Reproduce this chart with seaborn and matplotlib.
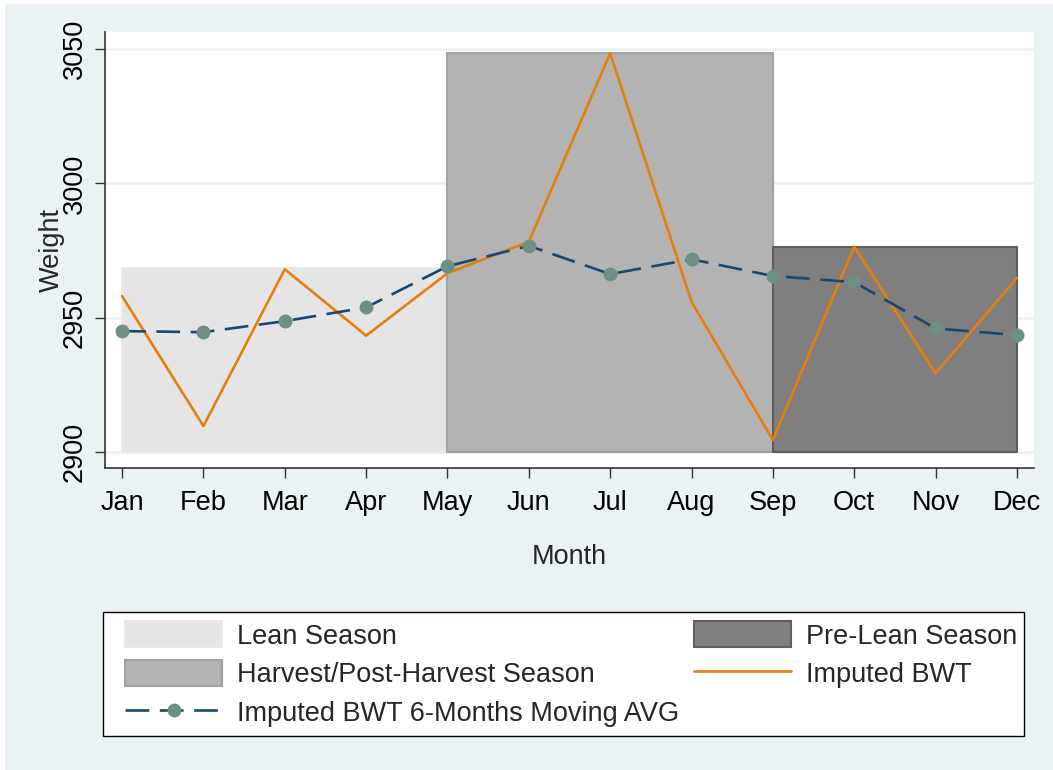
import matplotlib
matplotlib.use("Agg")
import matplotlib.pyplot as plt
from matplotlib.patches import Patch, Rectangle
from matplotlib.lines import Line2D
import seaborn as sns
import pandas as pd

# data
months = ["Jan", "Feb", "Mar", "Apr", "May", "Jun",
          "Jul", "Aug", "Sep", "Oct", "Nov", "Dec"]
month_num = list(range(1, 13))
imputed_bwt = [2958.1, 2909.8, 2968.1, 2943.4, 2966.6, 2978.3,
               3048.4, 2956.0, 2904.6, 2976.5, 2929.4, 2964.9]
moving_avg = [2945.1, 2944.7, 2948.8, 2953.9, 2969.2, 2976.8,
              2966.3, 2971.8, 2965.6, 2963.3, 2946.1, 2943.6]

season_names = ["Lean Season", "Harvest/Post-Harvest Season", "Pre-Lean Season"]
season_start = [1, 5, 9]
season_end = [5, 9, 12]
season_top = [2968.4, 3048.4, 2976.5]
season_base = 2900
y_ticks = [2900, 2950, 3000, 3050]

season_fill = ["#e5e5e5", "#b3b3b3", "#7f7f7f"]
season_edge = ["#e9e9e9", "#a2a2a2", "#5e5e5e"]
bg = "#eaf2f3"
orange = "#e47f0c"
navy = "#1a476f"
marker_col = "#6d8f84"

sns.set_style("white")
plt.rcParams["font.family"] = ["Liberation Sans", "DejaVu Sans"]

df = pd.DataFrame({"month": month_num, "bwt": imputed_bwt, "avg": moving_avg})

W, H = 1053, 770
fig = plt.figure(figsize=(W / 100, H / 100), dpi=100, facecolor="white")
fig.patches.append(Rectangle((5 / W, 0), 1, 1 - 4 / H, transform=fig.transFigure,
                             facecolor=bg, edgecolor="none", zorder=-10))

ax = fig.add_axes([105 / W, 1 - 468 / H, (1034 - 105) / W, (468 - 32) / H])
ax.set_facecolor("white")

# season blocks
for i in range(len(season_names)):
    ax.fill_between([season_start[i], season_end[i]], season_base, season_top[i],
                    facecolor=season_fill[i], edgecolor=season_edge[i],
                    linewidth=1.5, zorder=1 + i * 0.1)

sns.lineplot(data=df, x="month", y="bwt", ax=ax, color=orange,
             linewidth=1.9, zorder=3, legend=False)
sns.lineplot(data=df, x="month", y="avg", ax=ax, color=navy, linewidth=1.9,
             linestyle=(0, (9, 4)), marker="o", markersize=10,
             markerfacecolor=marker_col, markeredgecolor=marker_col,
             markeredgewidth=0, zorder=4, legend=False)

ax.set_xlim(0.79, 12.21)
ax.set_ylim(2894.2, 3056.3)
ax.set_xticks(month_num)
ax.set_xticklabels(months)
ax.set_yticks(y_ticks)

ax.yaxis.grid(True, color=bg, linewidth=1.8)
ax.xaxis.grid(False)
ax.set_axisbelow(True)

for s in ["top", "right"]:
    ax.spines[s].set_visible(False)
for s in ["left", "bottom"]:
    ax.spines[s].set_color("#333333")
    ax.spines[s].set_linewidth(1.2)

ax.tick_params(axis="both", length=7.5, width=1, color="#333333",
               labelsize=19.5, labelcolor="black", bottom=True, left=True)
ax.tick_params(axis="x", pad=8.5)
ax.tick_params(axis="y", pad=5, labelrotation=90)
plt.setp(ax.get_yticklabels(), va="center")

ax.set_xlabel("Month", fontsize=19.5, labelpad=20)
ax.set_ylabel("Weight", fontsize=19.5, labelpad=-2.5)

# legend frame drawn separately so the entries can sit off-centre like the original
fig.patches.append(Rectangle((103 / W, 1 - 736 / H), (1024 - 103) / W, 124 / H,
                             transform=fig.transFigure, facecolor="white",
                             edgecolor="black", linewidth=1.0, zorder=5))

handles = [
    Patch(facecolor=season_fill[0], edgecolor=season_edge[0], linewidth=1.5),
    Patch(facecolor=season_fill[1], edgecolor=season_edge[1], linewidth=1.5),
    Line2D([], [], color=navy, linewidth=1.9, linestyle=(0, (9, 4)), marker="o",
           markersize=10, markerfacecolor=marker_col, markeredgewidth=0),
    Patch(facecolor=season_fill[2], edgecolor=season_edge[2], linewidth=1.5),
    Line2D([], [], color=orange, linewidth=1.9),
]
labels = [season_names[0], season_names[1], "Imputed BWT 6-Months Moving AVG",
          season_names[2], "Imputed BWT"]
leg = fig.legend(handles, labels, loc="center", ncol=2, mode="expand",
                 bbox_to_anchor=(114 / W, 1 - 736 / H, (1028 - 114) / W, 124 / H),
                 borderaxespad=0, fontsize=19.5, handlelength=3.6,
                 handleheight=1.1, handletextpad=0.55, labelspacing=0.38,
                 borderpad=0.4, numpoints=1, frameon=False)
leg.set_zorder(6)

fig.savefig("out.png", dpi=100, facecolor=fig.get_facecolor())
